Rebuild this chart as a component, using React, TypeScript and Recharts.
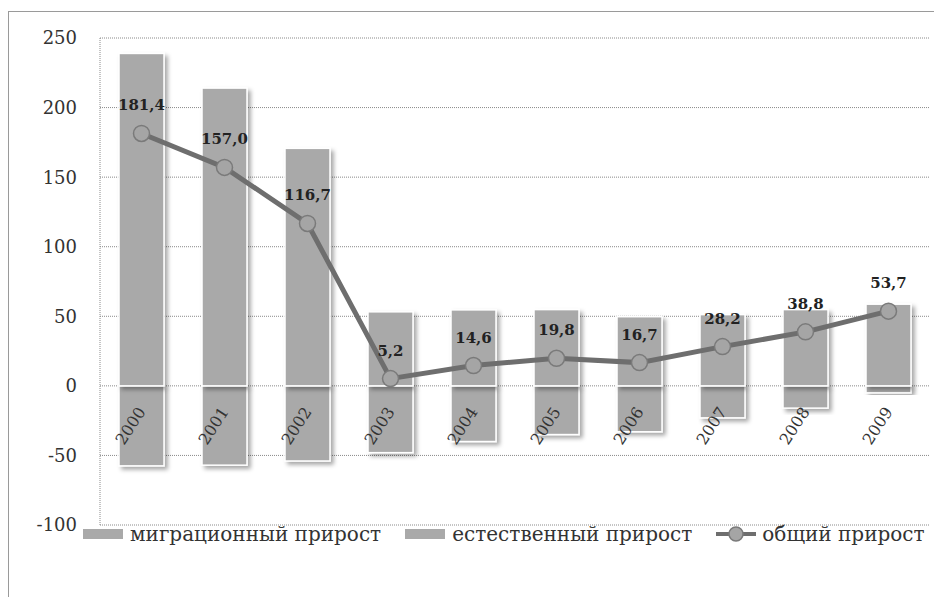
import React from 'react';
import {
    ComposedChart,
    Bar,
    Line,
    XAxis,
    YAxis,
    CartesianGrid,
    LabelList,
} from 'recharts';

const years = ['2000', '2001', '2002', '2003', '2004', '2005', '2006', '2007', '2008', '2009'];
const migration = [238.9, 214.0, 170.7, 53.2, 54.6, 54.8, 49.7, 51.2, 54.8, 58.7];
const natural = [-57.5, -57.0, -54.0, -48.0, -40.0, -35.0, -33.0, -23.0, -16.0, -5.0];
const total = [181.4, 157.0, 116.7, 5.2, 14.6, 19.8, 16.7, 28.2, 38.8, 53.7];
const yTicks = [-100, -50, 0, 50, 100, 150, 200, 250];

const seriesNames = ['миграционный прирост', 'естественный прирост', 'общий прирост'];

const data = years.map((year, i) => ({
    year,
    migration: migration[i],
    natural: natural[i],
    total: total[i],
}));

const SERIF = '"DejaVu Serif", "Liberation Serif", serif';
const BAR_FILL = '#a9a9a9';

const ShadowBar = (props: any) => {
    const { x, y, width, height, fill } = props;
    if (x == null || y == null) return null;
    const top = Math.min(y, y + height);
    const h = Math.abs(height);
    return (
        <rect
            x={x}
            y={top}
            width={width}
            height={h}
            fill={fill}
            stroke="#ffffff"
            strokeWidth={1.5}
            filter="url(#barShadow)"
        />
    );
};

const YearLabel = (props: any) => {
    const { x, y, width, height, value } = props;
    const cx = Number(x) + Number(width) / 2 - 11;
    const cy = Number(y) + Number(height) + 40;
    return (
        <text
            x={cx}
            y={cy}
            transform={`rotate(-57 ${cx} ${cy})`}
            textAnchor="middle"
            dominantBaseline="central"
            style={{ fontFamily: SERIF, fontSize: 16 }}
            fill="#333"
        >
            {value}
        </text>
    );
};

const fmt = (v: any) => Number(v).toFixed(1).replace('.', ',');

function ChartLegend() {
    const swatch = { display: 'inline-block', width: 40, height: 10, background: BAR_FILL, marginRight: 7 };
    const item = { display: 'flex', alignItems: 'center', marginRight: 24 };
    return (
        <div style={{
            position: 'absolute',
            left: 74,
            top: 510,
            display: 'flex',
            alignItems: 'center',
            fontSize: 20,
            color: '#333',
            whiteSpace: 'nowrap',
        }}>
            <div style={item}><span style={swatch} />{seriesNames[0]}</div>
            <div style={item}><span style={swatch} />{seriesNames[1]}</div>
            <div style={{ display: 'flex', alignItems: 'center' }}>
                <svg width={40} height={20} style={{ marginRight: 6 }}>
                    <line x1={0} y1={10} x2={40} y2={10} stroke="#6e6e6e" strokeWidth={4} />
                    <circle cx={20} cy={10} r={7} fill="#a5a5a5" stroke="#7a7a7a" strokeWidth={1.5} />
                </svg>
                {seriesNames[2]}
            </div>
        </div>
    );
}

export default function App() {
    return (
        <div style={{
            position: 'relative',
            width: 930,
            height: 600,
            marginTop: 3,
            border: '1px solid #9a9a9a',
            background: '#fff',
            fontFamily: SERIF,
        }}>
            <ComposedChart
                width={930}
                height={585}
                data={data}
                stackOffset="sign"
                margin={{ top: 26, right: 9, bottom: 72, left: 0 }}
                style={{ fontFamily: SERIF }}
            >
                <defs>
                    <filter id="barShadow" x="-20%" y="-20%" width="150%" height="150%">
                        <feDropShadow dx={3} dy={3} stdDeviation={2} floodColor="#000" floodOpacity={0.35} />
                    </filter>
                </defs>
                <CartesianGrid stroke="#8a8a8a" strokeDasharray="1 1" vertical={false} />
                <XAxis dataKey="year" hide />
                <YAxis
                    width={91}
                    domain={[-100, 250]}
                    ticks={yTicks}
                    interval={0}
                    tickLine={false}
                    tickMargin={17}
                    axisLine={{ stroke: '#8a8a8a', strokeDasharray: '1 1' }}
                    tick={{ fill: '#333', fontSize: 18, fontFamily: SERIF }}
                />
                <Bar
                    dataKey="natural"
                    stackId="a"
                    fill={BAR_FILL}
                    barSize={45}
                    shape={<ShadowBar />}
                    isAnimationActive={false}
                />
                <Bar
                    dataKey="migration"
                    stackId="a"
                    fill={BAR_FILL}
                    barSize={45}
                    shape={<ShadowBar />}
                    isAnimationActive={false}
                >
                    <LabelList dataKey="year" content={<YearLabel />} />
                </Bar>
                <Line
                    dataKey="total"
                    stroke="#6e6e6e"
                    strokeWidth={5}
                    dot={{ r: 8, fill: '#a5a5a5', stroke: '#7a7a7a', strokeWidth: 1.5 }}
                    isAnimationActive={false}
                >
                    <LabelList
                        dataKey="total"
                        position="top"
                        offset={23}
                        formatter={fmt}
                        style={{ fontFamily: SERIF, fontSize: 15, fontWeight: 700, fill: '#222' }}
                    />
                </Line>
            </ComposedChart>
            <ChartLegend />
        </div>
    );
}
